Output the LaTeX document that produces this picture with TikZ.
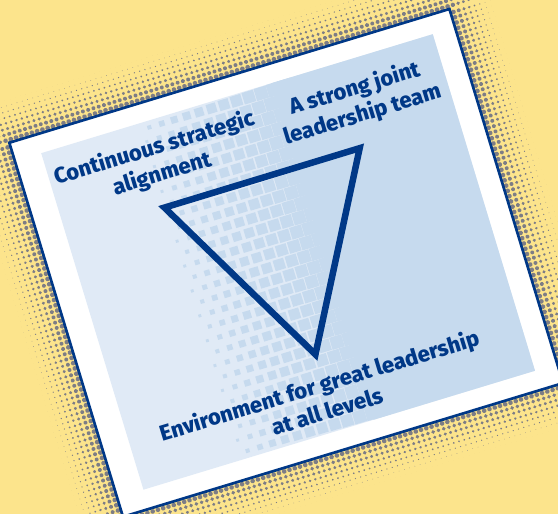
\documentclass[tikz,border=0pt]{standalone}
\usepackage{fontspec}
\setsansfont{Fira Sans}[BoldFont={Fira Sans ExtraBold}]
\usepackage{color}
\definecolor{myyellow}{RGB}{252,228,140}
\definecolor{mynavy}{RGB}{0,56,135}
\definecolor{mypale}{RGB}{224,234,246}
\definecolor{myblue}{RGB}{198,218,238}
\definecolor{mygrey}{RGB}{125,125,133}
\usetikzlibrary{positioning}
\tikzstyle{cardframe}=[shift={(9.3,142.7)},rotate=16.9]
\tikzstyle{corner}=[text=mynavy,font=\sffamily\bfseries\fontsize{22}{27}\selectfont,
  align=center,inner sep=0pt,transform shape]
\newcommand{\shadowdot}[2]{%
  \pgfmathsetmacro\dotr{max(0,2.5*(1-veclen(max(0,-#1,#1-460),max(0,-#2,#2-391))/42))}%
  \fill[mygrey] (#1,#2) circle[radius=\dotr pt];}
\newcommand{\panelsquare}[2]{%
  \pgfmathsetmacro\sqh{6.6*sqrt(min(1,max(0,(#1-125)/145)))}%
  \fill[myblue] (#1-\sqh,#2-\sqh) rectangle (#1+\sqh,#2+\sqh);}

\begin{document}
\begin{tikzpicture}[
  x=1pt,y=-1pt,
  card/.style={
    draw=mynavy,
    line width=2.7pt,
    fill=white,
    minimum width=460pt,
    minimum height=391pt,
    inner sep=0pt,
    transform shape
    },
  tri/.style={draw=mynavy,line width=6.5pt,line join=miter}
]
\fill[myyellow] (0,0) rectangle (558,514);
\useasboundingbox (0,0) rectangle (558,514);

\begin{scope}[cardframe]
% halftone shadow round the card
\foreach \u in {-41.5,-36,...,502} {
  \foreach \v in {-41.5,-36,...,-1} {\shadowdot{\u}{\v}}
  \foreach \v in {394.5,400,...,434} {\shadowdot{\u}{\v}}
}
\foreach \v in {4,9.5,...,391} {
  \foreach \u in {-41.5,-36,...,-1} {\shadowdot{\u}{\v}}
  \foreach \u in {463,468.5,...,502} {\shadowdot{\u}{\v}}
}
\node[card] (card) at (230,195.5) {};

% panel, pale to blue through a band of squares
\fill[mypale] (27.5,19.3) rectangle (436.7,371);
\fill[myblue] (268,19.3) rectangle (436.7,371);
\begin{scope}
\clip (27.5,19.3) rectangle (436.7,371);
\foreach \v [count=\row] in {26,39,...,371} {
  \pgfmathsetmacro\off{mod(\row,2)*6.5}
  \foreach \u in {132,145,...,275} {\panelsquare{\u+\off}{\v}}
}
\end{scope}

\coordinate (strat) at (129.6,107.2);
\coordinate (team)  at (333.7,107.1);
\coordinate (envir) at (231.4,291.6);
\draw[tri] (strat) -- (team) -- (envir) -- cycle;

\node[corner] (stratlbl) at (137,61)   {Continuous strategic\\alignment};
\node[corner] (teamlbl)  at (346,62.5) {A strong joint\\leadership team};
\node[corner] (envirlbl) at (226,335)  {Environment for great leadership\\at all levels};
\end{scope}
\end{tikzpicture}
\end{document}
